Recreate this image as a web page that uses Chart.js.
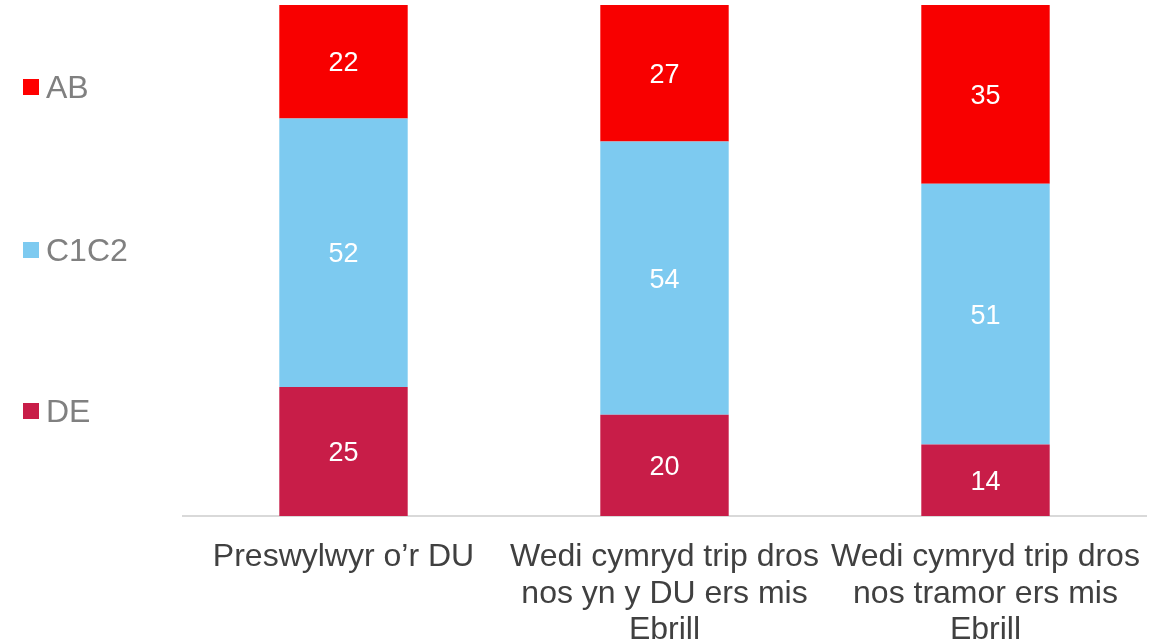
<!DOCTYPE html>
<html>
<head>
<meta charset="utf-8">
<script src="https://cdn.jsdelivr.net/npm/chart.js@4/dist/chart.umd.min.js"></script>
<style>
  html, body { margin: 0; padding: 0; background: #fff; }
  #wrap { width: 1171px; height: 642px; }
</style>
</head>
<body>
<div id="wrap"><canvas id="socialGrade"></canvas></div>
<script>
// Categories (wrapped the way they appear under the axis)
const categories = [
    ['Preswylwyr o\u2019r DU'],
    ['Wedi cymryd trip dros', 'nos yn y DU ers mis', 'Ebrill'],
    ['Wedi cymryd trip dros', 'nos tramor ers mis', 'Ebrill']
];
// Series values (%), bottom of the stack first
const seriesNames = ['DE', 'C1C2', 'AB'];
const deValues = [25, 20, 14];
const c1c2Values = [52, 54, 51];
const abValues = [22, 27, 35];
const seriesColours = ['#C81D48', '#7DCAF0', '#F80000'];

const rawSeries = [deValues, c1c2Values, abValues];
// Each bar is scaled to 100% of its own total
const totals = categories.map((c, i) => rawSeries.reduce((s, arr) => s + arr[i], 0));

const datasets = rawSeries.map((values, k) => ({
    label: seriesNames[k],
    raw: values,
    data: values.map((v, i) => v / totals[i] * 100),
    backgroundColor: seriesColours[k],
    borderWidth: 0,
    barPercentage: 0.8,
    categoryPercentage: 0.5
}));

const FONT = 'Arial, "Liberation Sans", sans-serif';

// White value labels in the middle of every segment
const segmentLabels = {
    id: 'segmentLabels',
    afterDatasetsDraw(chart) {
        const ctx = chart.ctx;
        ctx.save();
        ctx.fillStyle = '#ffffff';
        ctx.font = '27px ' + FONT;
        ctx.textAlign = 'center';
        ctx.textBaseline = 'middle';
        chart.data.datasets.forEach((ds, k) => {
            chart.getDatasetMeta(k).data.forEach((bar, i) => {
                ctx.fillText(String(ds.raw[i]), bar.x, (bar.y + bar.base) / 2 + 2);
            });
        });
        ctx.restore();
    }
};

// Legend down the left side, top item = top of stack
const sideLegend = {
    id: 'sideLegend',
    afterDraw(chart) {
        const ctx = chart.ctx;
        const rows = [87, 250, 411];
        const items = chart.data.datasets.slice().reverse();
        ctx.save();
        ctx.font = '32px ' + FONT;
        ctx.textBaseline = 'middle';
        ctx.textAlign = 'left';
        items.forEach((ds, i) => {
            const y = rows[i];
            ctx.fillStyle = ds.label === 'AB' ? '#FF0000' : ds.backgroundColor;
            ctx.fillRect(23, y - 8, 16, 16);
            ctx.fillStyle = '#808080';
            ctx.fillText(ds.label, 46, y + 2);
        });
        ctx.restore();
    }
};

new Chart(document.getElementById('socialGrade'), {
    type: 'bar',
    data: { labels: categories, datasets: datasets },
    plugins: [segmentLabels, sideLegend],
    options: {
        responsive: true,
        maintainAspectRatio: false,
        animation: false,
        layout: { padding: { left: 183, right: 25, top: 5, bottom: 0 } },
        plugins: {
            legend: { display: false },
            tooltip: { enabled: false }
        },
        scales: {
            x: {
                stacked: true,
                grid: { display: false },
                border: { display: true, color: '#D9D9D9', width: 2 },
                ticks: {
                    color: '#404040',
                    font: { family: FONT, size: 32, lineHeight: 1.14 },
                    padding: 15,
                    maxRotation: 0,
                    autoSkip: false
                },
                afterFit(scale) { scale.height = 126; }
            },
            y: {
                stacked: true,
                display: false,
                min: 0,
                max: 100
            }
        }
    }
});
</script>
</body>
</html>
